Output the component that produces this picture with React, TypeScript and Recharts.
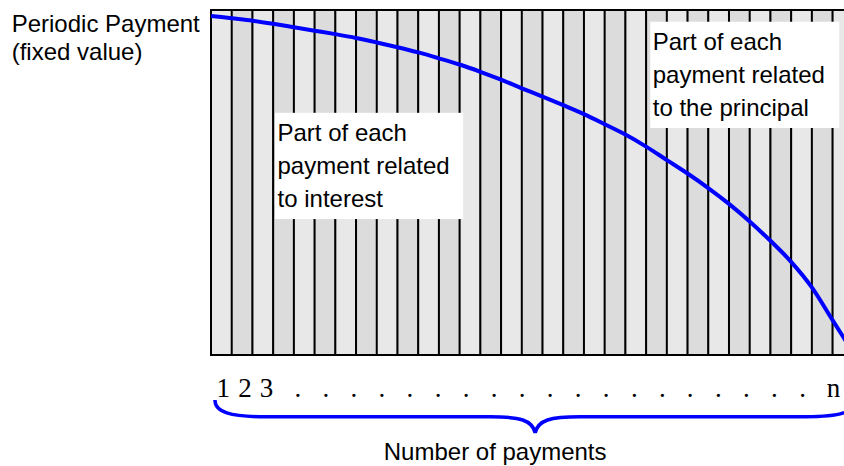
import React from 'react';
import { ComposedChart, Bar, Cell, Line, XAxis, YAxis, ReferenceArea, ReferenceLine } from 'recharts';

// Payment periods (one bar per payment, each the same fixed amount)
const paymentNumbers = [1, 2, 3, 4, 5, 6, 7, 8, 9, 10, 11, 12, 13, 14, 15, 16, 17, 18, 19, 20, 21, 22, 23, 24, 25, 26, 27, 28, 29, 30, 31];
const paymentValues = [100, 100, 100, 100, 100, 100, 100, 100, 100, 100, 100, 100, 100, 100, 100, 100, 100, 100, 100, 100, 100, 100, 100, 100, 100, 100, 100, 100, 100, 100, 100];

// Interest share of each payment (% of the fixed payment) at the bar boundaries
const curveX = [0, 1, 2, 3, 4, 5, 6, 7, 8, 9, 10, 11, 12, 13, 14, 15, 16, 17, 18, 19, 20, 21, 22, 23, 24, 25, 26, 27, 28, 29, 30, 31];
const curveY = [98.3, 97.6, 96.9, 96.0, 95.0, 94.0, 93.0, 91.9, 90.6, 89.2, 87.7, 86.0, 84.2, 82.1, 79.8, 77.3, 74.9, 72.4, 69.8, 66.9, 63.9, 60.4, 56.5, 52.6, 48.4, 43.8, 38.7, 33.1, 27.0, 19.6, 10.1, 0.6];

// Bottom row labels "1 2 3 . . . n"
const bottomTickPos = [0.59, 1.64, 2.68, 4.19, 5.54, 6.9, 8.25, 9.6, 10.96, 12.31, 13.66, 15.02, 16.37, 17.72, 19.07, 20.43, 21.78, 23.13, 24.49, 25.84, 27.19, 28.55, 30.05];
const bottomTickLabels = ['1', '2', '3', '.', '.', '.', '.', '.', '.', '.', '.', '.', '.', '.', '.', '.', '.', '.', '.', '.', '.', '.', 'n'];

const interestNote = ['Part of each', 'payment related', 'to interest'];
const principalNote = ['Part of each', 'payment related', 'to the principal'];
const yLabelLines = ['Periodic Payment', '(fixed value)'];
const xLabel = 'Number of payments';

const barData = paymentNumbers.map((n, i) => ({ n, v: paymentValues[i] }));
const curveData = curveX.map((x, i) => ({ x, y: curveY[i] }));

const SANS = "'Liberation Sans', Arial, Helvetica, sans-serif";
const SERIF = "'Liberation Serif', 'Times New Roman', serif";
const BLUE = '#0000ff';

const noteShape = (lines: string[]) => (p: any) => (
  <g>
    <rect x={p.x} y={p.y} width={p.width} height={p.height} fill="#ffffff" stroke="none" />
    <text fontFamily={SANS} fontSize={24} fill="#000">
      {lines.map((l, i) => (
        <tspan key={i} x={p.x + 2.5} y={p.y + 28 + 33 * i}>{l}</tspan>
      ))}
    </text>
  </g>
);

const Brace = (p: any) => {
  const L = p.x1, R = p.x2, y = p.y1;
  const M = (L + R) / 2;
  const d = `M ${L} ${y - 16.7} C ${L} ${y - 4.7}, ${L + 15} ${y}, ${L + 50} ${y} L ${M - 45} ${y} C ${M - 15} ${y}, ${M - 3} ${y + 3.3}, ${M} ${y + 16} C ${M + 3} ${y + 3.3}, ${M + 15} ${y}, ${M + 45} ${y} L ${R - 50} ${y} C ${R - 15} ${y}, ${R} ${y - 4.7}, ${R} ${y - 16.7}`;
  return (
    <g>
      <path d={d} fill="none" stroke={BLUE} strokeWidth={3.5} />
      <text x={M - 40} y={y + 43.3} textAnchor="middle" fontFamily={SANS} fontSize={24} fill="#000">{xLabel}</text>
    </g>
  );
};

const LeftLabel = (props: any) => {
  const vb = props && props.viewBox ? props.viewBox : { x: 0, y: 2 };
  return (
    <text fontFamily={SANS} fontSize={24} fill="#000">
      <tspan x={vb.x + 3.7} y={vb.y + 21.7}>{yLabelLines[0]}</tspan>
      <tspan x={vb.x + 3.7} y={vb.y + 50}>{yLabelLines[1]}</tspan>
    </text>
  );
};

export default function App() {
  return (
    <div style={{ position: 'absolute', left: 8, top: 8, width: 836, height: 458, overflow: 'hidden' }}>
      <ComposedChart
        width={860}
        height={458}
        data={barData}
        margin={{ top: 2, right: 14.7, bottom: 71, left: 0 }}
        barCategoryGap={0}
        barGap={0}
      >
        <XAxis xAxisId="bars" dataKey="n" type="category" hide height={0} />
        <XAxis
          xAxisId="line"
          dataKey="x"
          type="number"
          domain={[0, 31]}
          allowDataOverflow
          ticks={bottomTickPos}
          interval={0}
          tickFormatter={(v: number) => {
            const i = bottomTickPos.indexOf(v);
            return i >= 0 ? bottomTickLabels[i] : '';
          }}
          axisLine={false}
          tickLine={false}
          tickSize={0}
          tickMargin={22.5}
          height={40}
          tick={{ fontFamily: SERIF, fontSize: 27, fill: '#000' }}
        />
        <YAxis
          domain={[0, 100]}
          width={203}
          axisLine={false}
          tickLine={false}
          tick={false}
          label={LeftLabel}
        />
        <Bar xAxisId="bars" dataKey="v" stroke="#000" strokeWidth={2} isAnimationActive={false}>
          {barData.map((d, i) => (
            <Cell key={d.n} fill={i % 2 === 0 ? '#e8e8e8' : '#dcdcdc'} />
          ))}
        </Bar>
        <Line
          xAxisId="line"
          data={curveData}
          dataKey="y"
          type="monotone"
          stroke={BLUE}
          strokeWidth={4}
          dot={false}
          activeDot={false}
          isAnimationActive={false}
        />
        <ReferenceArea xAxisId="line" x1={3.09} x2={12.17} y1={39.4} y2={70.2} ifOverflow="visible" zIndex={1500} shape={noteShape(interestNote)} />
        <ReferenceArea xAxisId="line" x1={21.2} x2={30.32} y1={65.8} y2={96.6} ifOverflow="visible" zIndex={1500} shape={noteShape(principalNote)} />
        <ReferenceLine
          xAxisId="line"
          segment={[{ x: 0.19, y: -17.9 }, { x: 31.1, y: -17.9 }]}
          ifOverflow="visible"
          shape={Brace}
        />
      </ComposedChart>
    </div>
  );
}
